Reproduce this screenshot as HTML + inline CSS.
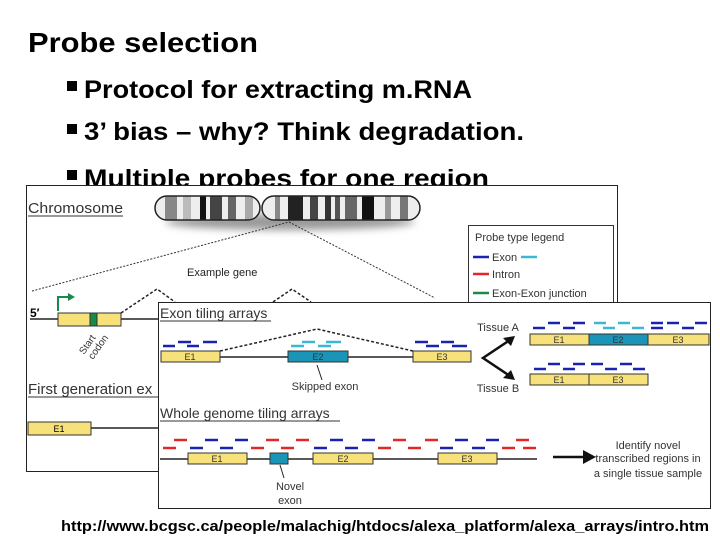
<!DOCTYPE html>
<html><head><meta charset="utf-8"><style>
html,body{margin:0;padding:0;background:#fff;}
svg{display:block;}
</style></head><body>
<svg width="720" height="540" viewBox="0 0 720 540" xmlns="http://www.w3.org/2000/svg" font-family="Liberation Sans, sans-serif">
<defs>
<clipPath id="cl"><rect x="155" y="196" width="105" height="24" rx="12"/></clipPath>
<clipPath id="cr"><rect x="262" y="196" width="158" height="24" rx="12"/></clipPath>
<filter id="sh" x="-20%" y="-50%" width="140%" height="250%"><feGaussianBlur stdDeviation="4"/></filter>
</defs>
<rect width="720" height="540" fill="#fff"/>
<text x="28" y="52" font-size="28" font-weight="bold" textLength="230" lengthAdjust="spacingAndGlyphs">Probe selection</text>
<g font-size="25" font-weight="bold">
<rect x="67" y="81" width="10" height="10"/>
<text x="84" y="98" textLength="388" lengthAdjust="spacingAndGlyphs">Protocol for extracting m.RNA</text>
<rect x="67" y="124" width="10" height="10"/>
<text x="84" y="140" textLength="440" lengthAdjust="spacingAndGlyphs">3’ bias – why? Think degradation.</text>
<rect x="67" y="170" width="10" height="10"/>
<text x="84" y="187" textLength="405" lengthAdjust="spacingAndGlyphs">Multiple probes for one region</text>
</g>
<!-- back image -->
<rect x="26.5" y="185.5" width="591" height="286" fill="#fff" stroke="#222" stroke-width="1"/>
<text x="28" y="213" font-size="15" textLength="95" lengthAdjust="spacingAndGlyphs" fill="#333">Chromosome</text>
<line x1="28" y1="216" x2="123" y2="216" stroke="#333"/>
<ellipse cx="290" cy="222" rx="125" ry="8" fill="#999" filter="url(#sh)"/>
<g clip-path="url(#cl)"><rect x="155" y="196" width="105" height="24" fill="#eee"/>
<rect x="165" y="196" width="12" height="24" fill="#888"/><rect x="183" y="196" width="8" height="24" fill="#bbb"/><rect x="200" y="196" width="6" height="24" fill="#111"/><rect x="210" y="196" width="12" height="24" fill="#444"/><rect x="228" y="196" width="8" height="24" fill="#666"/><rect x="245" y="196" width="8" height="24" fill="#aaa"/></g>
<rect x="155" y="196" width="105" height="24" rx="12" fill="none" stroke="#222" stroke-width="1.5"/>
<g clip-path="url(#cr)"><rect x="262" y="196" width="158" height="24" fill="#eee"/>
<rect x="275" y="196" width="5" height="24" fill="#888"/><rect x="288" y="196" width="15" height="24" fill="#222"/><rect x="310" y="196" width="8" height="24" fill="#444"/><rect x="325" y="196" width="6" height="24" fill="#333"/><rect x="335" y="196" width="5" height="24" fill="#555"/><rect x="345" y="196" width="12" height="24" fill="#666"/><rect x="362" y="196" width="12" height="24" fill="#111"/><rect x="385" y="196" width="6" height="24" fill="#999"/><rect x="400" y="196" width="8" height="24" fill="#777"/></g>
<rect x="262" y="196" width="158" height="24" rx="12" fill="none" stroke="#222" stroke-width="1.5"/>
<g stroke="#333" stroke-width="1" stroke-dasharray="2,1.5" fill="none">
<polyline points="32,291 289,222 435,298"/>
</g>
<text x="187" y="276" font-size="11" fill="#222">Example gene</text>
<rect x="468.5" y="225.5" width="145" height="90" fill="#fff" stroke="#333"/>
<g font-size="11" fill="#333">
<text x="475" y="241">Probe type legend</text>
<text x="492" y="261">Exon</text><text x="492" y="278">Intron</text><text x="492" y="297">Exon-Exon junction</text></g>
<line x1="473" y1="257" x2="489" y2="257" stroke="#1a22b0" stroke-width="2.5"/>
<line x1="521" y1="257" x2="537" y2="257" stroke="#3ab8d0" stroke-width="2.5"/>
<line x1="473" y1="274" x2="489" y2="274" stroke="#e02828" stroke-width="2.5"/>
<line x1="473" y1="293" x2="489" y2="293" stroke="#1a8a4a" stroke-width="2.5"/>
<text x="30" y="317" font-size="12" font-weight="bold">5′</text>
<line x1="30" y1="319" x2="160" y2="319" stroke="#222" stroke-width="1.5"/>
<rect x="58" y="313" width="63" height="13" fill="#f7e17a" stroke="#333"/>
<rect x="90" y="313" width="7" height="13" fill="#1a8a4a" stroke="#333"/>
<path d="M58,311 V297 H70" fill="none" stroke="#1a8a4a" stroke-width="2"/><path d="M68,293 L75,297 L68,301 Z" fill="#1a8a4a"/>
<text transform="translate(84,355) rotate(-55)" font-size="10" fill="#333">Start</text>
<text transform="translate(93,360) rotate(-55)" font-size="10" fill="#333">codon</text>
<polyline points="121,313 157,289 175,302" fill="none" stroke="#222" stroke-width="1.5" stroke-dasharray="3,2"/>
<polyline points="273,302 292,289 311,302" fill="none" stroke="#222" stroke-width="1.5" stroke-dasharray="3,2"/>
<text x="28" y="394" font-size="15" fill="#333">First generation ex</text>
<line x1="28" y1="397" x2="158" y2="397" stroke="#333"/>
<line x1="91" y1="428" x2="158" y2="428" stroke="#222" stroke-width="1.5"/>
<rect x="28" y="422" width="63" height="13" fill="#f7e17a" stroke="#333"/>
<text x="59" y="432" font-size="9" text-anchor="middle">E1</text>
<!-- front image -->
<rect x="158.5" y="302.5" width="552" height="206" fill="#fff" stroke="#222"/>
<text x="160" y="318" font-size="14" fill="#333">Exon tiling arrays</text>
<line x1="160" y1="321" x2="271" y2="321" stroke="#333"/>
<line x1="161" y1="357" x2="471" y2="357" stroke="#222" stroke-width="1.5"/>
<polyline points="220,351 317,329 413,351" fill="none" stroke="#222" stroke-width="1.5" stroke-dasharray="3,2"/>
<g stroke-width="2.5">
<g stroke="#1a22b0"><line x1="163" y1="346" x2="175" y2="346"/><line x1="187" y1="346" x2="199" y2="346"/><line x1="178" y1="342" x2="191" y2="342"/><line x1="203" y1="342" x2="217" y2="342"/>
<line x1="415" y1="342" x2="428" y2="342"/><line x1="441" y1="342" x2="454" y2="342"/><line x1="426" y1="346" x2="439" y2="346"/><line x1="452" y1="346" x2="467" y2="346"/></g>
<g stroke="#3ab8d0"><line x1="291" y1="346" x2="304" y2="346"/><line x1="318" y1="346" x2="331" y2="346"/><line x1="302" y1="342" x2="315" y2="342"/><line x1="326" y1="342" x2="341" y2="342"/></g>
</g>
<rect x="161" y="351" width="59" height="11" fill="#f7e17a" stroke="#333"/>
<rect x="288" y="351" width="60" height="11" fill="#1a95b8" stroke="#333"/>
<rect x="413" y="351" width="58" height="11" fill="#f7e17a" stroke="#333"/>
<g font-size="9" text-anchor="middle" fill="#333"><text x="190" y="360">E1</text><text x="318" y="360">E2</text><text x="442" y="360">E3</text></g>
<line x1="317" y1="365" x2="322" y2="380" stroke="#222"/>
<text x="325" y="390" font-size="11" text-anchor="middle" fill="#333">Skipped exon</text>
<text x="498" y="331" font-size="11" text-anchor="middle" fill="#333">Tissue A</text>
<text x="498" y="392" font-size="11" text-anchor="middle" fill="#333">Tissue B</text>
<polyline points="510,340 483,358 510,376" fill="none" stroke="#111" stroke-width="2.5"/>
<path d="M515,336 L503,338 L511,346 Z M515,380 L503,378 L511,370 Z" fill="#111"/>
<g stroke-width="2.5" stroke="#1a22b0">
<line x1="533" y1="328" x2="545" y2="328"/><line x1="548" y1="323" x2="560" y2="323"/><line x1="563" y1="328" x2="575" y2="328"/><line x1="573" y1="323" x2="585" y2="323"/>
<line x1="651" y1="328" x2="663" y2="328"/><line x1="651" y1="323" x2="663" y2="323"/><line x1="667" y1="323" x2="679" y2="323"/><line x1="682" y1="328" x2="694" y2="328"/><line x1="695" y1="323" x2="707" y2="323"/>
<line x1="534" y1="369" x2="546" y2="369"/><line x1="548" y1="364" x2="560" y2="364"/><line x1="563" y1="369" x2="575" y2="369"/><line x1="573" y1="364" x2="585" y2="364"/><line x1="591" y1="364" x2="603" y2="364"/><line x1="605" y1="369" x2="617" y2="369"/><line x1="620" y1="364" x2="632" y2="364"/><line x1="633" y1="369" x2="645" y2="369"/></g>
<g stroke-width="2.5" stroke="#3ab8d0"><line x1="594" y1="323" x2="606" y2="323"/><line x1="603" y1="328" x2="615" y2="328"/><line x1="618" y1="323" x2="630" y2="323"/><line x1="632" y1="328" x2="644" y2="328"/></g>
<rect x="530" y="334" width="59" height="11" fill="#f7e17a" stroke="#333"/>
<rect x="589" y="334" width="59" height="11" fill="#1a95b8" stroke="#333"/>
<rect x="648" y="334" width="61" height="11" fill="#f7e17a" stroke="#333"/>
<rect x="530" y="374" width="59" height="11" fill="#f7e17a" stroke="#333"/>
<rect x="589" y="374" width="59" height="11" fill="#f7e17a" stroke="#333"/>
<g font-size="9" text-anchor="middle" fill="#333"><text x="559" y="343">E1</text><text x="618" y="343">E2</text><text x="678" y="343">E3</text><text x="559" y="383">E1</text><text x="618" y="383">E3</text></g>
<text x="160" y="418" font-size="14" fill="#333">Whole genome tiling arrays</text>
<line x1="160" y1="421" x2="340" y2="421" stroke="#333"/>
<g stroke-width="2.5">
<g stroke="#e02828"><line x1="174" y1="440" x2="187" y2="440"/><line x1="163" y1="448" x2="176" y2="448"/><line x1="266" y1="440" x2="279" y2="440"/><line x1="251" y1="448" x2="264" y2="448"/><line x1="296" y1="440" x2="309" y2="440"/><line x1="281" y1="448" x2="294" y2="448"/><line x1="393" y1="440" x2="406" y2="440"/><line x1="378" y1="448" x2="391" y2="448"/><line x1="425" y1="440" x2="438" y2="440"/><line x1="408" y1="448" x2="421" y2="448"/><line x1="516" y1="440" x2="529" y2="440"/><line x1="502" y1="448" x2="515" y2="448"/><line x1="523" y1="448" x2="536" y2="448"/></g>
<g stroke="#1a22b0"><line x1="205" y1="440" x2="218" y2="440"/><line x1="190" y1="448" x2="203" y2="448"/><line x1="235" y1="440" x2="248" y2="440"/><line x1="220" y1="448" x2="233" y2="448"/><line x1="330" y1="440" x2="343" y2="440"/><line x1="314" y1="448" x2="327" y2="448"/><line x1="362" y1="440" x2="375" y2="440"/><line x1="345" y1="448" x2="358" y2="448"/><line x1="455" y1="440" x2="468" y2="440"/><line x1="440" y1="448" x2="453" y2="448"/><line x1="486" y1="440" x2="499" y2="440"/><line x1="472" y1="448" x2="485" y2="448"/></g>
</g>
<line x1="160" y1="459" x2="537" y2="459" stroke="#222" stroke-width="1.5"/>
<rect x="188" y="453" width="59" height="11" fill="#f7e17a" stroke="#333"/>
<rect x="270" y="453" width="18" height="11" fill="#1a95b8" stroke="#333"/>
<rect x="313" y="453" width="60" height="11" fill="#f7e17a" stroke="#333"/>
<rect x="438" y="453" width="59" height="11" fill="#f7e17a" stroke="#333"/>
<g font-size="9" text-anchor="middle" fill="#333"><text x="217" y="462">E1</text><text x="343" y="462">E2</text><text x="467" y="462">E3</text></g>
<line x1="280" y1="465" x2="284" y2="478" stroke="#222"/>
<text x="290" y="490" font-size="11" text-anchor="middle" fill="#333">Novel</text>
<text x="290" y="504" font-size="11" text-anchor="middle" fill="#333">exon</text>
<line x1="553" y1="457" x2="585" y2="457" stroke="#111" stroke-width="2.5"/>
<path d="M596,457 L583,450 L583,464 Z" fill="#111"/>
<g font-size="11" text-anchor="middle" fill="#333"><text x="648" y="449">Identify novel</text><text x="648" y="462">transcribed regions in</text><text x="648" y="477">a single tissue sample</text></g>
<text x="385" y="531" font-size="14.5" font-weight="bold" text-anchor="middle" textLength="648" lengthAdjust="spacingAndGlyphs">http://www.bcgsc.ca/people/malachig/htdocs/alexa_platform/alexa_arrays/intro.htm</text>
</svg>
</body></html>
